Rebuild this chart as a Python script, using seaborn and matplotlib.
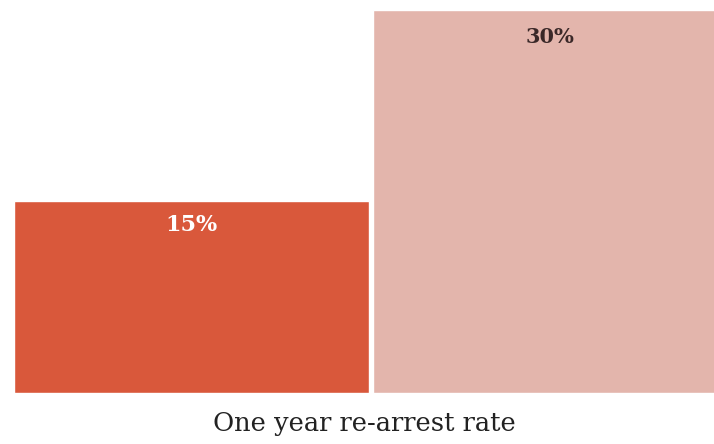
import pandas as pd
import matplotlib
matplotlib.use("Agg")
import matplotlib.pyplot as plt
import seaborn as sns

# Data
groups = ["Group A", "Group B"]
rates = [15, 30]
labels = ["15%", "30%"]
bar_colors = ["#D9583B", "#E3B5AC"]
label_colors = ["#FFFFFF", "#3A2828"]

data = pd.DataFrame({"group": groups, "rate": rates})

sns.set_style("white")
plt.rcParams['font.family'] = ['DejaVu Serif']

fig = plt.figure(figsize=(7.14, 4.44), dpi=100)
# axes in pixels: left 14, bottom at y=393, top at y=10, right to edge
ax = fig.add_axes([14 / 714, (444 - 393) / 444, 700 / 714, 383 / 444])

bar_w = 355 / 359
sns.barplot(data=data, x="group", y="rate", hue="group", palette=bar_colors,
            width=bar_w, legend=False, ax=ax, saturation=1)

ax.set_xlim(-bar_w / 2, -bar_w / 2 + 700 / 359)
ax.set_ylim(0, 30)

# value labels inside the bars
offsets = [12, 17]
sizes = [16, 15]
for i, (lab, val) in enumerate(zip(labels, rates)):
    ax.annotate(lab, xy=(i, val), xytext=(0, -offsets[i] * 72 / 100),
                textcoords="offset points", ha="center", va="top",
                color=label_colors[i], fontsize=sizes[i], fontweight="bold")

ax.set_xticks([])
ax.set_yticks([])
ax.set_ylabel("")
ax.set_xlabel("One year re-arrest rate", fontsize=18.5, color="#222222", labelpad=13)
sns.despine(ax=ax, left=True, bottom=True)

fig.savefig("out.png", dpi=100)
